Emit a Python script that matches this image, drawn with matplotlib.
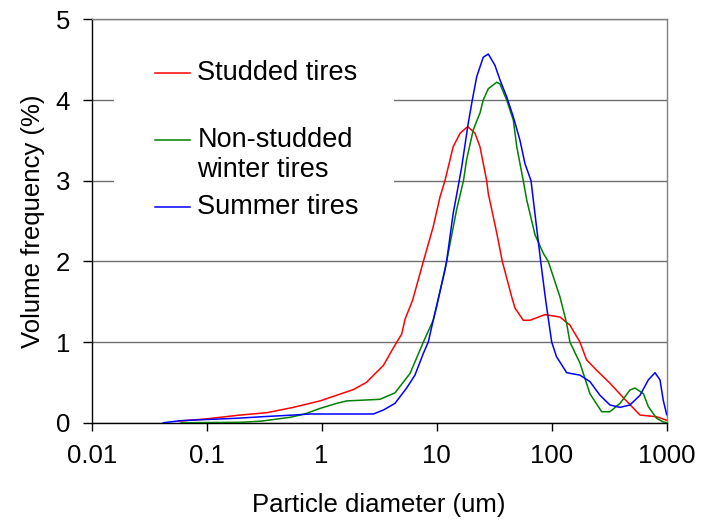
import matplotlib
matplotlib.use("Agg")
import matplotlib.pyplot as plt
from matplotlib.patches import Rectangle

plt.rcParams['font.family'] = ['Liberation Sans', 'DejaVu Sans']

# particle diameter (um) and volume frequency (%)
studded_d = [0.057, 0.097, 0.195, 0.333, 0.566, 0.966, 1.88, 2.45, 3.44, 4.17, 4.97, 5.30,
             6.18, 7.66, 9.33, 10.7, 11.8, 13.9, 16.0, 18.6, 21.5, 23.8, 27.2, 28.1, 33.3,
             37.2, 44.9, 48.0, 56.6, 64.7, 87.5, 118, 144, 176, 201, 246, 321, 420, 586,
             818, 1000]
studded_v = [0.02, 0.046, 0.095, 0.124, 0.19, 0.27, 0.41, 0.50, 0.71, 0.92, 1.10, 1.28,
             1.52, 2.0, 2.43, 2.80, 3.0, 3.42, 3.59, 3.67, 3.59, 3.42, 3.0, 2.84, 2.35,
             2.0, 1.56, 1.42, 1.27, 1.27, 1.34, 1.31, 1.21, 1.0, 0.78, 0.65, 0.49, 0.31, 0.095,
             0.074, 0.03]

winter_d = [0.06, 0.2, 0.3, 0.53, 0.65, 0.74, 0.97, 1.35, 1.65, 3.21, 4.34, 5.86, 7.66,
            9.33, 10.0, 12.2, 14.9, 17.1, 18.2, 20.8, 23.8, 25.4, 28.1, 33.3, 35.5, 40.6,
            46.4, 49.7, 56.6, 60.7, 71.6, 84.5, 93.3, 118, 135, 144, 176, 215, 272, 321,
            393, 479, 530, 627, 692, 818, 933, 1000]
winter_v = [0.0, 0.005, 0.02, 0.067, 0.095, 0.116, 0.178, 0.24, 0.27, 0.29, 0.37, 0.61, 1.0,
            1.27, 1.44, 2.0, 2.64, 3.0, 3.26, 3.63, 3.84, 4.0, 4.14, 4.22, 4.2, 4.0,
            3.75, 3.42, 3.0, 2.76, 2.33, 2.10, 2.0, 1.56, 1.23, 1.0, 0.74, 0.36, 0.136, 0.136,
            0.24, 0.405, 0.43, 0.36, 0.20, 0.054, 0.01, 0.0]

summer_d = [0.042, 0.059, 0.1, 0.182, 0.31, 0.566, 0.79, 2.81, 3.44, 4.34, 5.48, 6.47, 7.66,
            8.45, 9.33, 11.8, 12.2, 13.9, 15.7, 16.5, 18.8, 20.4, 22.3, 25.4, 28.1, 32.1,
            35.5, 40.6, 46.4, 53.0, 58.6, 66.1, 72.8, 80.2, 89, 100, 110, 135, 176, 215,
            263, 321, 393, 479, 586, 692, 791, 875, 933, 1000]
summer_v = [0.0, 0.025, 0.04, 0.055, 0.075, 0.095, 0.108, 0.108, 0.157, 0.24, 0.43, 0.59, 0.86,
            1.0, 1.27, 1.89, 2.0, 2.59, 3.0, 3.17, 3.71, 4.0, 4.29, 4.53, 4.57, 4.43,
            4.25, 4.04, 3.79, 3.50, 3.21, 3.0, 2.5, 2.0, 1.5, 1.0, 0.82, 0.62, 0.59, 0.51,
            0.34, 0.22, 0.19, 0.22, 0.34, 0.53, 0.62, 0.53, 0.28, 0.1]

labels = ["Studded tires", "Non-studded", "winter tires", "Summer tires"]
x_ticks = [0.01, 0.1, 1, 10, 100, 1000]
x_ticklabels = ["0.01", "0.1", "1", "10", "100", "1000"]

fig = plt.figure(figsize=(7.02, 5.28), dpi=100)
ax = fig.add_axes([0.1306, 0.1994, 0.8191, 0.764])

ax.plot(studded_d, studded_v, color='#FF0000', lw=1.1, zorder=3)
ax.plot(winter_d, winter_v, color='#008000', lw=1.1, zorder=3)
ax.plot(summer_d, summer_v, color='#0000FF', lw=1.1, zorder=3)

ax.set_xscale('log')
ax.set_xlim(0.01, 1000)
ax.set_ylim(0, 5)
ax.set_xticks(x_ticks)
ax.set_xticklabels(x_ticklabels)
ax.minorticks_off()
ax.set_yticks([0, 1, 2, 3, 4, 5])

ax.grid(axis='y', color='#707070', lw=1.0)
ax.set_axisbelow(True)

for s in ['top', 'right']:
    ax.spines[s].set_color('#808080')
for s in ['left', 'bottom']:
    ax.spines[s].set_color('black')
for s in ax.spines.values():
    s.set_linewidth(1.0)

ax.tick_params(axis='x', direction='out', length=5.5, width=1, pad=10, labelsize=18.5)
ax.tick_params(axis='y', direction='out', length=6.5, width=1, pad=9, labelsize=18.5)

ax.set_xlabel("Particle diameter (um)", fontsize=18.5, labelpad=18)
ax.set_ylabel("Volume frequency (%)", fontsize=18.5, labelpad=8)

# legend, drawn by hand so the two-line label lines up like the original
ax.add_patch(Rectangle((0.039, 0.478), 0.487, 0.471, transform=ax.transAxes,
                       facecolor='white', edgecolor='none', zorder=1))
hy = [0.8676, 0.7008, 0.5354]
for c, y in zip(['#FF0000', '#008000', '#0000FF'], hy):
    ax.plot([0.110, 0.171], [y, y], color=c, lw=1.1, transform=ax.transAxes, zorder=2)
ax.text(0.1837, hy[0], labels[0], transform=ax.transAxes, fontsize=19.5, va='center', zorder=2)
ax.text(0.1837, hy[1], labels[1], transform=ax.transAxes, fontsize=19.5, va='center', zorder=2)
ax.text(0.1837, 0.626, labels[2], transform=ax.transAxes, fontsize=19.5, va='center', zorder=2)
ax.text(0.1837, hy[2], labels[3], transform=ax.transAxes, fontsize=19.5, va='center', zorder=2)

fig.savefig("out.png", dpi=100)
